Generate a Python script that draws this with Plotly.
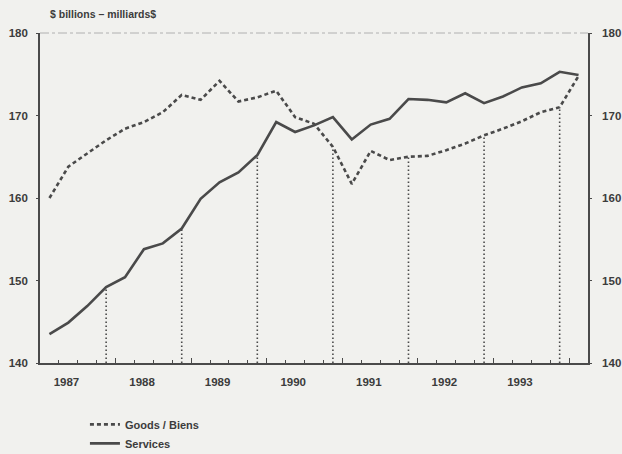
import plotly.graph_objects as go

# Quarterly data, 1987Q1 .. 1994Q1 ($ billions)
quarters = list(range(29))
goods = [160.0, 163.8, 165.4, 167.0, 168.4, 169.2, 170.4, 172.5, 171.9, 174.2,
         171.7, 172.2, 173.0, 169.8, 169.0, 166.2, 161.7, 165.7, 164.6, 165.0,
         165.1, 165.8, 166.6, 167.6, 168.4, 169.3, 170.4, 171.0, 174.8]
services = [143.5, 144.9, 146.9, 149.2, 150.4, 153.8, 154.5, 156.3, 159.9, 161.9,
            163.1, 165.2, 169.2, 168.0, 168.8, 169.8, 167.1, 168.9, 169.6, 172.0,
            171.9, 171.6, 172.7, 171.5, 172.3, 173.4, 173.9, 175.3, 174.9]
year_labels = ["1987", "1988", "1989", "1990", "1991", "1992", "1993"]
y_ticks = [140, 150, 160, 170, 180]

INK = "#4a4a4a"
BG = "#f1f1ee"
FONT = dict(family="Liberation Sans, Arial, sans-serif", size=11.5, color="#3c3c3c", weight="bold")

fig = go.Figure()

# Q4 drop lines from the axis floor up to the lower of the two series
q4 = [q for q in quarters if q % 4 == 3]
dx, dy = [], []
for q in q4:
    dx += [q, q, None]
    dy += [y_ticks[0], min(goods[q], services[q]), None]
fig.add_trace(go.Scatter(x=dx, y=dy, mode="lines", showlegend=False, hoverinfo="skip",
                         line=dict(color=INK, width=1.6, dash="1.5px,2.5px")))

fig.add_trace(go.Scatter(x=quarters, y=goods, mode="lines", name="Goods / Biens",
                         line=dict(color=INK, width=2.6, dash="4px,3px")))
fig.add_trace(go.Scatter(x=quarters, y=services, mode="lines", name="Services",
                         line=dict(color=INK, width=2.6)))

# invisible helper traces so overlay axes are drawn
fig.add_trace(go.Scatter(x=[quarters[0]], y=[y_ticks[0]], xaxis="x2", yaxis="y", mode="markers",
                         marker=dict(opacity=0), showlegend=False, hoverinfo="skip"))
fig.add_trace(go.Scatter(x=[quarters[0]], y=[y_ticks[0]], xaxis="x", yaxis="y2", mode="markers",
                         marker=dict(opacity=0), showlegend=False, hoverinfo="skip"))

xr = [-0.5, len(quarters) - 0.5]
year_bounds = [4 * i - 0.5 for i in range(len(year_labels) + 1)]
label_pos = [4 * i + 0.9 for i in range(len(year_labels))]

fig.update_layout(
    width=622, height=454,
    paper_bgcolor=BG, plot_bgcolor=BG,
    margin=dict(l=40, r=34, t=33, b=91, autoexpand=False),
    font=FONT,
    title=dict(text="$ billions – milliards$", x=50 / 622, xanchor="left",
               y=1 - 14 / 454, yanchor="middle", font=dict(size=10.5, color="#3c3c3c", weight="bold")),
    xaxis=dict(range=xr, showline=True, linecolor=INK, linewidth=1.6, showgrid=False, zeroline=False,
               automargin=False,
               ticks="inside", tickvals=year_bounds, ticklen=5, tickcolor=INK, tickwidth=1.2,
               showticklabels=False,
               minor=dict(ticks="inside", tick0=-0.5, dtick=1, ticklen=3, tickcolor=INK, tickwidth=1)),
    xaxis2=dict(range=xr, overlaying="x", anchor="y", side="bottom", showline=False, showgrid=False,
                zeroline=False, tickmode="array", tickvals=label_pos, ticktext=year_labels, ticks="",
                ticklabelstandoff=10, automargin=False),
    yaxis=dict(range=[y_ticks[0], y_ticks[-1]], tickvals=y_ticks, showline=True, linecolor=INK,
               linewidth=1.6, showgrid=False, zeroline=False, ticks="outside", ticklen=2,
               tickcolor=INK, ticklabelstandoff=6, automargin=False),
    yaxis2=dict(range=[y_ticks[0], y_ticks[-1]], tickvals=y_ticks, overlaying="y", side="right",
                anchor="x", showline=True, linecolor=INK, linewidth=1.6, showgrid=False,
                zeroline=False, ticks="outside", ticklen=2, tickcolor=INK, ticklabelstandoff=8,
                automargin=False),
    legend=dict(x=0.082, xref="paper", y=-0.142, yanchor="top",
                bgcolor="rgba(0,0,0,0)", font=dict(size=11, color="#3c3c3c", weight="bold"),
                itemwidth=30, tracegroupgap=0),
    shapes=[dict(type="line", xref="paper", yref="paper", x0=0, x1=1, y0=1, y1=1,
                 line=dict(color="#b0b0b0", width=1, dash="dashdot"))],
)

fig.write_html("out.html", config={"displayModeBar": False},
               post_script="document.body.style.margin='0';document.body.style.overflow='hidden';"
                           "document.body.style.background='" + BG + "';")
